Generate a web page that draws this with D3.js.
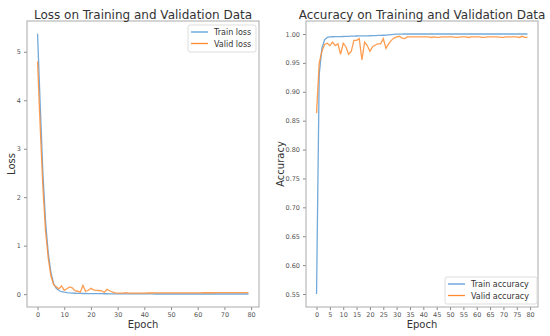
<!DOCTYPE html>
<html><head><meta charset="utf-8">
<script src="https://cdn.jsdelivr.net/npm/d3@7"></script>
<style>body{margin:0;background:#fff}svg{display:block}text{font-family:"DejaVu Sans",sans-serif}</style>
</head><body>
<script>
const epochs = d3.range(0, 80);
const trainLoss = [5.37,3.90,2.50,1.50,0.85,0.45,0.22,0.12,0.075,0.05,0.04,0.032,0.026,0.022,0.019,0.017,0.015,0.014,0.013,0.012,0.011,0.010,0.010,0.009,0.009,0.008,0.008,0.007,0.007,0.006,0.006,0.006,0.005,0.005,0.005,0.005,0.005,0.004,0.004,0.004,0.004,0.004,0.004,0.004,0.003,0.003,0.003,0.003,0.003,0.003,0.003,0.003,0.003,0.003,0.003,0.003,0.003,0.003,0.003,0.003,0.003,0.003,0.003,0.003,0.003,0.003,0.003,0.003,0.003,0.003,0.003,0.003,0.003,0.003,0.003,0.003,0.003,0.003,0.003,0.003];
const validLoss = [4.80,3.45,2.20,1.30,0.75,0.38,0.20,0.15,0.11,0.17,0.08,0.11,0.15,0.13,0.07,0.06,0.04,0.18,0.06,0.08,0.12,0.09,0.08,0.075,0.07,0.035,0.10,0.07,0.045,0.025,0.022,0.02,0.02,0.03,0.022,0.022,0.022,0.022,0.023,0.023,0.023,0.024,0.024,0.024,0.025,0.025,0.025,0.025,0.026,0.026,0.026,0.026,0.027,0.027,0.027,0.027,0.027,0.028,0.028,0.028,0.028,0.028,0.029,0.029,0.029,0.029,0.029,0.03,0.03,0.03,0.03,0.03,0.03,0.031,0.031,0.031,0.031,0.031,0.032,0.032];
const trainAcc = [0.550,0.930,0.975,0.990,0.9940,0.9950,0.9952,0.9953,0.9955,0.9956,0.9957,0.9958,0.9960,0.9962,0.9963,0.9965,0.9966,0.9967,0.9968,0.9969,0.9970,0.9972,0.9973,0.9975,0.9977,0.9978,0.9980,0.9985,0.9990,0.9995,0.9998,0.9999,0.9999,1.0,1.0,1.0,1.0,1.0,1.0,1.0,1.0,1.0,1.0,1.0,1.0,1.0,1.0,1.0,1.0,1.0,1.0,1.0,1.0,1.0,1.0,1.0,1.0,1.0,1.0,1.0,1.0,1.0,1.0,1.0,1.0,1.0,1.0,1.0,1.0,1.0,1.0,1.0,1.0,1.0,1.0,1.0,1.0,1.0,1.0,1.0];
const validAcc = [0.863,0.950,0.970,0.982,0.984,0.980,0.986,0.980,0.983,0.965,0.984,0.978,0.965,0.970,0.989,0.989,0.992,0.955,0.986,0.980,0.970,0.978,0.981,0.983,0.983,0.992,0.975,0.983,0.989,0.993,0.995,0.996,0.993,0.992,0.995,0.995,0.995,0.995,0.995,0.995,0.995,0.995,0.995,0.994,0.995,0.994,0.994,0.995,0.995,0.995,0.995,0.995,0.994,0.994,0.995,0.995,0.995,0.994,0.995,0.995,0.995,0.995,0.994,0.994,0.995,0.995,0.995,0.995,0.995,0.994,0.994,0.995,0.995,0.995,0.995,0.995,0.994,0.996,0.994,0.994];
const lossTicksX = [0,10,20,30,40,50,60,70,80];
const lossTicksY = [0,1,2,3,4,5];
const accTicksX = d3.range(0, 85, 5);
const accTicksY = [0.55,0.60,0.65,0.70,0.75,0.80,0.85,0.90,0.95,1.00];

const W = 550, H = 336;
const svg = d3.select("body").append("svg").attr("width", W).attr("height", H);
const blue = "#5b9bd5", orange = "#ff8c33";

function panel(o) {
  const {left, right, top, bottom, xDomain, yDomain, xTicks, yTicks, yFmt, series, title, ylabel, legend, ylabelX} = o;
  const x = d3.scaleLinear().domain(xDomain).range([left, right]);
  const y = d3.scaleLinear().domain(yDomain).range([bottom, top]);
  const g = svg.append("g");
  const line = d3.line().x((d, i) => x(epochs[i])).y(d => y(d));
  series.forEach(s => {
    g.append("path").datum(s.values).attr("d", line).attr("fill", "none")
      .attr("stroke", s.color).attr("stroke-width", 1.3).attr("stroke-opacity", 0.85);
  });
  const xa = g.append("g").attr("transform", `translate(0,${bottom})`)
    .call(d3.axisBottom(x).tickValues(xTicks).tickSize(3).tickPadding(2).tickFormat(d3.format("d")));
  const ya = g.append("g").attr("transform", `translate(${left},0)`)
    .call(d3.axisLeft(y).tickValues(yTicks).tickSize(3).tickPadding(3).tickFormat(yFmt));
  [xa, ya].forEach(a => {
    a.select(".domain").remove();
    a.selectAll("line").attr("stroke", "#888");
    a.selectAll("text").attr("fill", "#555").attr("font-size", 6.5).attr("font-family", "DejaVu Sans");
  });
  g.append("rect").attr("x", left).attr("y", top).attr("width", right - left).attr("height", bottom - top)
    .attr("fill", "none").attr("stroke", "#aaa").attr("stroke-width", 1);
  svg.append("text").attr("x", (left + right) / 2).attr("y", 18.5).attr("text-anchor", "middle")
    .attr("font-size", 12).attr("fill", "#333").text(title);
  svg.append("text").attr("x", (left + right) / 2).attr("y", 328).attr("text-anchor", "middle")
    .attr("font-size", 10).attr("fill", "#333").text("Epoch");
  svg.append("text").attr("transform", `translate(${ylabelX},${(top + bottom) / 2}) rotate(-90)`)
    .attr("text-anchor", "middle").attr("font-size", 10).attr("fill", "#333").text(ylabel);
  const lg = svg.append("g");
  lg.append("rect").attr("x", legend.x).attr("y", legend.y).attr("width", legend.w).attr("height", legend.h)
    .attr("rx", 2).attr("fill", "#fff").attr("fill-opacity", 0.9).attr("stroke", "#ddd");
  series.forEach((s, i) => {
    const yy = legend.y + 7 + i * 11.5;
    lg.append("line").attr("x1", legend.x + 3).attr("x2", legend.x + 20).attr("y1", yy).attr("y2", yy)
      .attr("stroke", s.color).attr("stroke-width", 1.3);
    lg.append("text").attr("x", legend.x + 26).attr("y", yy + 3).attr("font-size", 8).attr("fill", "#333").text(s.name);
  });
}

panel({left: 27, right: 259, top: 21, bottom: 307,
  xDomain: [-3.95, 82.95], yDomain: [-0.265, 5.635],
  xTicks: lossTicksX, yTicks: lossTicksY, yFmt: d3.format("d"),
  series: [{name: "Train loss", values: trainLoss, color: blue}, {name: "Valid loss", values: validLoss, color: orange}],
  title: "Loss on Training and Validation Data", ylabel: "Loss", ylabelX: 15,
  legend: {x: 188, y: 25, w: 68, h: 27}});

panel({left: 306, right: 538, top: 21, bottom: 307,
  xDomain: [-3.95, 82.95], yDomain: [0.5275, 1.0225],
  xTicks: accTicksX, yTicks: accTicksY, yFmt: d3.format(".2f"),
  series: [{name: "Train accuracy", values: trainAcc, color: blue}, {name: "Valid accuracy", values: validAcc, color: orange}],
  title: "Accuracy on Training and Validation Data", ylabel: "Accuracy", ylabelX: 284,
  legend: {x: 445, y: 277, w: 92, h: 27}});
</script>
</body></html>
